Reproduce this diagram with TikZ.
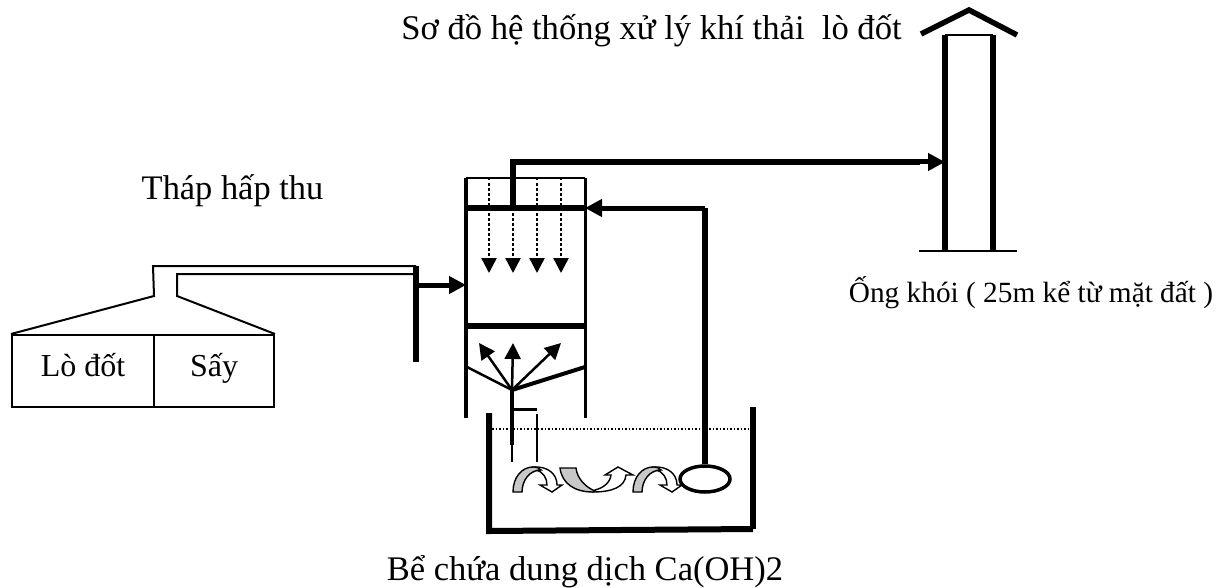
\documentclass[tikz,border=0pt]{standalone}
\usepackage{fontspec}
\setmainfont{Liberation Serif}
\usetikzlibrary{arrows.meta, shapes.geometric}
\definecolor{bandgray}{HTML}{C8C8C8}

\newcommand{\bendarrow}[1]{%
  \begin{scope}[xshift=#1pt]
    \draw[whitetip] (533,467) .. controls (548,466) and (557,474) .. (557,485)
      -- (562,485) -- (552,492) -- (540,485) -- (547,485)
      .. controls (547,478) and (543,471) .. (535,470) -- cycle;
    \draw[band] (513,492) .. controls (513,477) and (522,467) .. (533,467)
      .. controls (537,467) and (539,468) .. (541,470)
      .. controls (530,470) and (522,480) .. (522,492) -- cycle;
  \end{scope}}

\begin{document}
\begin{tikzpicture}[
    x=1pt, y=-1pt,
    lbl/.style={inner sep=0pt, anchor=base},
    boxlbl/.style={draw, line width=2pt, minimum height=72pt, anchor=north west, inner sep=0pt,
                   font=\fontsize{32}{34}\selectfont, text height=20pt, text depth=10pt},
    thin line/.style={line width=2pt},
    wall/.style={line width=4pt},
    heavy/.style={line width=5.5pt},
    tankwall/.style={line width=6pt},
    arrow/.style={-{Triangle[length=17pt,width=17pt]}, line width=5pt},
    spray/.style={-{Triangle[length=15pt,width=15pt]}, line width=2.5pt, dash pattern=on 2.5pt off 2.5pt},
    jet/.style={-{Triangle[length=16pt,width=16pt]}, line width=2.5pt},
    band/.style={fill=bandgray, draw=black, line width=1.4pt},
    whitetip/.style={fill=white, draw=black, line width=1.4pt}
  ]
    \useasboundingbox (0,0) rectangle (1222,588);

    % text
    \node[lbl, font=\fontsize{34.6}{36}\selectfont] (title) at (651.5,40) {Sơ đồ hệ thống xử lý khí thải\ \ lò đốt};
    \node[lbl, font=\fontsize{34.4}{36}\selectfont] (thap) at (232.5,199) {Tháp hấp thu};
    \node[lbl, font=\fontsize{29.3}{31}\selectfont] (ongkhoi) at (1031,302) {Ống khói ( 25m kể từ mặt đất )};
    \node[lbl, font=\fontsize{34.5}{36}\selectfont] (bechua) at (585,580) {Bể chứa dung dịch Ca(OH)2};

    % furnace and dryer
    \node[boxlbl, minimum width=142pt] (lodot) at (11,334) {Lò đốt};
    \node[boxlbl, minimum width=120pt] (say) at (153,334) {Sấy};

    % duct
    \coordinate (inlettop) at (416,266);
    \coordinate (inletlow) at (416,362);
    \coordinate (inletarrow) at (416,285);
    \draw[thin line] (lodot.north west) -- (154,296) -- (153,266) -- (inlettop);
    \draw[thin line] (say.north east) -- (177,296) -- (177,274) -- (416,274);
    \draw[heavy] (inlettop) -- (inletlow);

    % absorption tower
    \coordinate (towertl) at (466,178);
    \coordinate (towertr) at (585,178);
    \coordinate (towerbl) at (466,418);
    \coordinate (towerbr) at (585,418);
    \coordinate (apex) at (512,390);
    \draw[wall] (towertl) -- (towerbl);
    \draw[line width=3pt] (towertr) -- (towerbr);
    \draw[line width=2pt] (towertl) -- (towertr);
    \draw[heavy] (towertl |- 0,208) -- (towertr |- 0,208);
    \draw[heavy] (towerbl |- 0,326) -- (towerbr |- 0,326);
    \draw[arrow] (inletarrow) -- (towertl |- inletarrow);

    % spray
    \foreach \sx in {489,513,537,561}
      \draw[spray] (\sx,178) -- (\sx,273);

    % funnel and jets
    \draw[line width=2.5pt] (467,367) -- (apex);
    \draw[line width=4pt] (585,367) -- (apex);
    \draw[jet] (apex) -- (479,343);
    \draw[jet] (apex) -- (513,343);
    \draw[jet] (apex) -- (561,343);
    \draw[line width=3.5pt] (apex) -- (512,445);
    \draw[line width=2pt] (512,445) -- (512,462);
    \draw[line width=3pt] (512,409) -- (537,409);
    \draw[line width=2pt] (537,414) -- (537,462);

    % tank
    \coordinate (tanktl) at (489,413);
    \coordinate (tankbl) at (489,531);
    \coordinate (tankbr) at (753,529);
    \coordinate (tanktr) at (753,407);
    \draw[tankwall] (tanktl) -- (tankbl) -- (tankbr);
    \draw[tankwall] (tanktr) -- (tankbr);
    \draw[line width=1.5pt, dotted] (492,429) -- (750,429);

    % stirring
    \bendarrow{0}
    \draw[whitetip] (593,492) .. controls (612,492) and (625,487) .. (626,475)
      -- (633,475) -- (618,467) -- (605,475) -- (611,475)
      .. controls (610,483) and (603,488) .. (595,490) -- cycle;
    \draw[band] (560,468) -- (576,468) .. controls (577,478) and (585,487) .. (595,491)
      -- (593,492) .. controls (575,492) and (562,484) .. (560,468) -- cycle;
    \bendarrow{120}

    % pump
    \node[ellipse, draw, line width=3.5pt, minimum width=50pt, minimum height=26pt, inner sep=0pt] (pump) at (705,479) {};
    \draw[heavy] (pump.north) -- (705,208);
    \draw[arrow] (705,208) -- (towertr |- 0,208);

    % to chimney
    \coordinate (chimtl) at (945,35);
    \coordinate (chimtr) at (993,35);
    \coordinate (chimbl) at (945,251);
    \coordinate (chimbr) at (993,251);
    \draw[heavy] (513,208) -- (513,162) -- (920,162);
    \draw[arrow] (900,162) -- (chimtl |- 0,162);
    \draw[line width=6pt] (chimtl) -- (chimbl);
    \draw[line width=6pt] (chimtr) -- (chimbr);
    \draw[line width=2pt] (chimtl) -- (chimtr);
    \draw[line width=2pt] (919,251) -- (1017,251);
    \draw[heavy] (921,34) -- (969,10) -- (1017,35);
  \end{tikzpicture}
\end{document}
